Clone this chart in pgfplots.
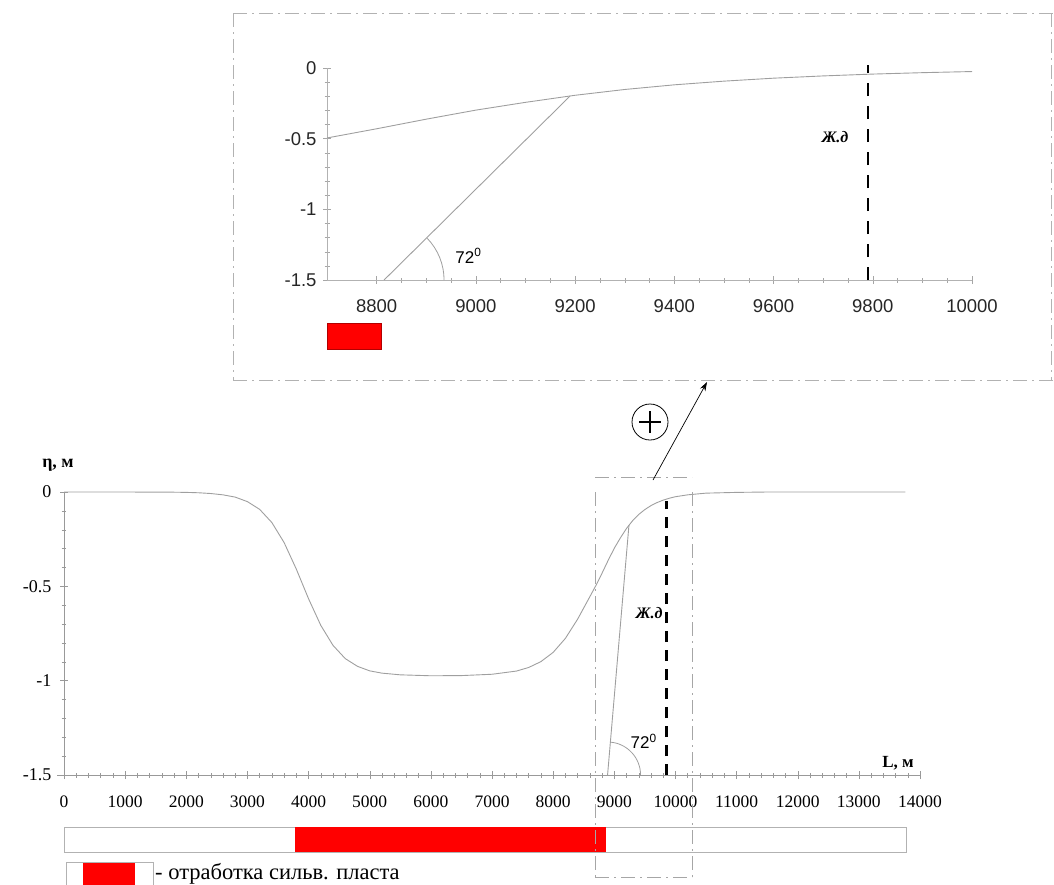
\documentclass[border=0pt]{standalone}
\usepackage{fontspec}
\setmainfont{Liberation Serif}
\newfontfamily\arial{Liberation Sans}
\usepackage{pgfplots}
\usepackage{pgfplotstable}
\pgfplotsset{compat=1.18}
\usetikzlibrary{arrows.meta}

\pgfplotstableread{
L eta
0 0
1000 0
1800 -0.001
2000 -0.002
2200 -0.004
2400 -0.008
2600 -0.015
2800 -0.027
3000 -0.051
3200 -0.092
3400 -0.162
3600 -0.268
3800 -0.409
4000 -0.566
4200 -0.707
4400 -0.813
4600 -0.883
4800 -0.924
5000 -0.948
5200 -0.960
5500 -0.969
6000 -0.974
6500 -0.973
7000 -0.966
7400 -0.949
7600 -0.930
7800 -0.899
8000 -0.850
8200 -0.776
8400 -0.674
8600 -0.555
8700 -0.495
8800 -0.430
8900 -0.362
9000 -0.298
9100 -0.243
9200 -0.193
9300 -0.152
9400 -0.119
9500 -0.093
9600 -0.072
9700 -0.056
9800 -0.043
9900 -0.033
10000 -0.025
10200 -0.015
10500 -0.006
11000 -0.002
11500 0
13760 0
}\curve

\begin{document}
\begin{tikzpicture}[x=1pt,y=1pt]
\path[use as bounding box] (0,0) rectangle (1054,-884);

% ---------------- main axis ----------------
\begin{axis}[
  scale only axis, width=856pt, height=283pt,
  at={(64pt,-775pt)}, anchor=south west,
  xmin=0, xmax=14000, ymin=-1.5, ymax=0,
  axis lines=left, axis line style={-, gray!80},
  clip=false, scaled x ticks=false,
  xtick={0,1000,...,14000}, minor x tick num=4,
  ytick={-1.5,-1,-0.5,0}, yticklabels={-1.5,-1,-0.5,0}, minor y tick num=4,
  tick align=center, major tick length=8pt, minor tick length=5pt,
  every tick/.style={gray!80},
  /pgf/number format/.cd, fixed, set thousands separator={}, assume math mode=true,
  /pgfplots/.cd,
  xticklabel style={font=\fontsize{17.5}{19}\selectfont, yshift=-13pt},
  yticklabel style={font=\fontsize{18}{19}\selectfont, xshift=-5pt},
]
\addplot[gray!75, line width=0.9pt] table[x=L,y=eta]{\curve};
% slope line
\addplot[gray!75, line width=0.9pt] coordinates {(8890,-1.5) (9240,-0.175)};
% dashed Ж.д
\addplot[black, line width=2.6pt, dash pattern=on 11pt off 8pt] coordinates {(9850,-1.5) (9850,-0.05)};
% bar under the axis
\addplot[draw=gray!60, fill=white, line width=0.8pt] coordinates {(0,-1.776) (13780,-1.776) (13780,-1.908) (0,-1.908)} -- cycle;
\addplot[draw=none, fill=red] coordinates {(3780,-1.776) (8870,-1.776) (8870,-1.908) (3780,-1.908)} -- cycle;
% angle arc
\draw[gray!75, line width=0.8pt] (axis cs:8890,-1.5) ++(0:33pt) arc[start angle=0, end angle=85, radius=33pt];
\node[font=\arial\fontsize{17}{19}\selectfont, anchor=center] at (axis cs:9480,-1.32) {72\textsuperscript{0}};
\node[font=\bfseries\itshape\fontsize{16}{18}\selectfont, anchor=center] at (axis cs:9570,-0.64) {Ж.д};
\end{axis}

% main x axis line stub left of the y axis
\draw[gray!80, line width=0.4pt] (57,-775) -- (64,-775);

% labels of main axis
\node[font=\bfseries\fontsize{18}{19}\selectfont] at (58,-465) {η, м};
\node[font=\bfseries\fontsize{17}{19}\selectfont] at (898,-763) {L, м};

% dash-dot zoom rectangle on main chart
\draw[gray!70, line width=0.8pt, dash pattern=on 14pt off 5pt on 2pt off 5pt] (595,-477) -- (692,-477);
\draw[gray!70, line width=0.8pt, dash pattern=on 14pt off 5pt on 2pt off 5pt] (595,-492) -- (595,-880);
\draw[gray!70, line width=0.8pt, dash pattern=on 14pt off 5pt on 2pt off 5pt] (692,-492) -- (692,-880);
\draw[gray!70, line width=0.8pt, dash pattern=on 14pt off 5pt on 2pt off 5pt] (595,-877) -- (692,-877);

% arrow and circled plus
\draw[black, line width=0.7pt, -{Stealth[length=9pt,width=6pt]}] (653,-480) -- (707,-382);
\draw[black, line width=0.8pt, fill=white] (650,-422) circle[radius=18];
\draw[black, line width=2pt] (639,-422) -- (661,-422) (650,-411) -- (650,-433);

% legend
\draw[gray!60, line width=0.8pt, fill=white] (66,-862) rectangle (153,-892);
\fill[red] (83,-862.5) rectangle (135,-892);
\node[anchor=base west, font=\fontsize{22.5}{24}\selectfont, inner sep=0pt] at (155,-879) {- отработка сильв. пласта};

% ---------------- inset frame ----------------
\draw[gray!60, line width=0.8pt, dash pattern=on 14pt off 5pt on 2pt off 5pt] (233,-13) -- (1054,-13);
\draw[gray!60, line width=0.8pt, dash pattern=on 14pt off 5pt on 2pt off 5pt] (233,-380) -- (1054,-380);
\draw[gray!60, line width=0.8pt, dash pattern=on 14pt off 5pt on 2pt off 5pt] (233,-13) -- (233,-380);
\draw[gray!60, line width=0.8pt, dash pattern=on 14pt off 5pt on 2pt off 5pt] (1051,-13) -- (1051,-380);

% ---------------- inset axis ----------------
\begin{axis}[
  scale only axis, width=645pt, height=212pt,
  at={(327pt,-280pt)}, anchor=south west,
  xmin=8700, xmax=10000, ymin=-1.5, ymax=0,
  axis lines=left, axis line style={-, gray!60},
  clip=false, scaled x ticks=false,
  xtick={8800,9000,...,10000}, minor x tick num=3,
  ytick={-1.5,-1,-0.5,0}, yticklabels={-1.5,-1,-0.5,0}, minor y tick num=4,
  tick align=center, major tick length=8pt, minor tick length=5pt,
  every tick/.style={gray!70},
  /pgf/number format/.cd, fixed, set thousands separator={}, assume math mode=true,
  /pgfplots/.cd,
  xticklabel style={font=\arial\fontsize{18.5}{20}\selectfont, text=black!85, yshift=-12pt},
  yticklabel style={font=\arial\fontsize{18.5}{20}\selectfont, text=black!85, xshift=-3pt},
]
\addplot[gray!75, line width=0.9pt, restrict x to domain=8700:10000] table[x=L,y=eta]{\curve};
\addplot[gray!75, line width=0.9pt] coordinates {(8815,-1.5) (9190,-0.198)};
\addplot[black, line width=2.6pt, dash pattern=on 13pt off 10pt] coordinates {(9790,-1.5) (9790,0.02)};
\addplot[fill=red, draw=red!70!black, line width=0.6pt] coordinates {(8700,-1.804) (8810,-1.804) (8810,-1.991) (8700,-1.991)} -- cycle;
\draw[gray!75, line width=0.8pt] (axis cs:8815,-1.5) ++(0:60pt) arc[start angle=0, end angle=44, radius=60pt];
\node[font=\arial\fontsize{17}{19}\selectfont] at (axis cs:8985,-1.33) {72\textsuperscript{0}};
\node[font=\bfseries\itshape\fontsize{16}{18}\selectfont] at (axis cs:9724,-0.49) {Ж.д};
\end{axis}
\end{tikzpicture}
\end{document}
